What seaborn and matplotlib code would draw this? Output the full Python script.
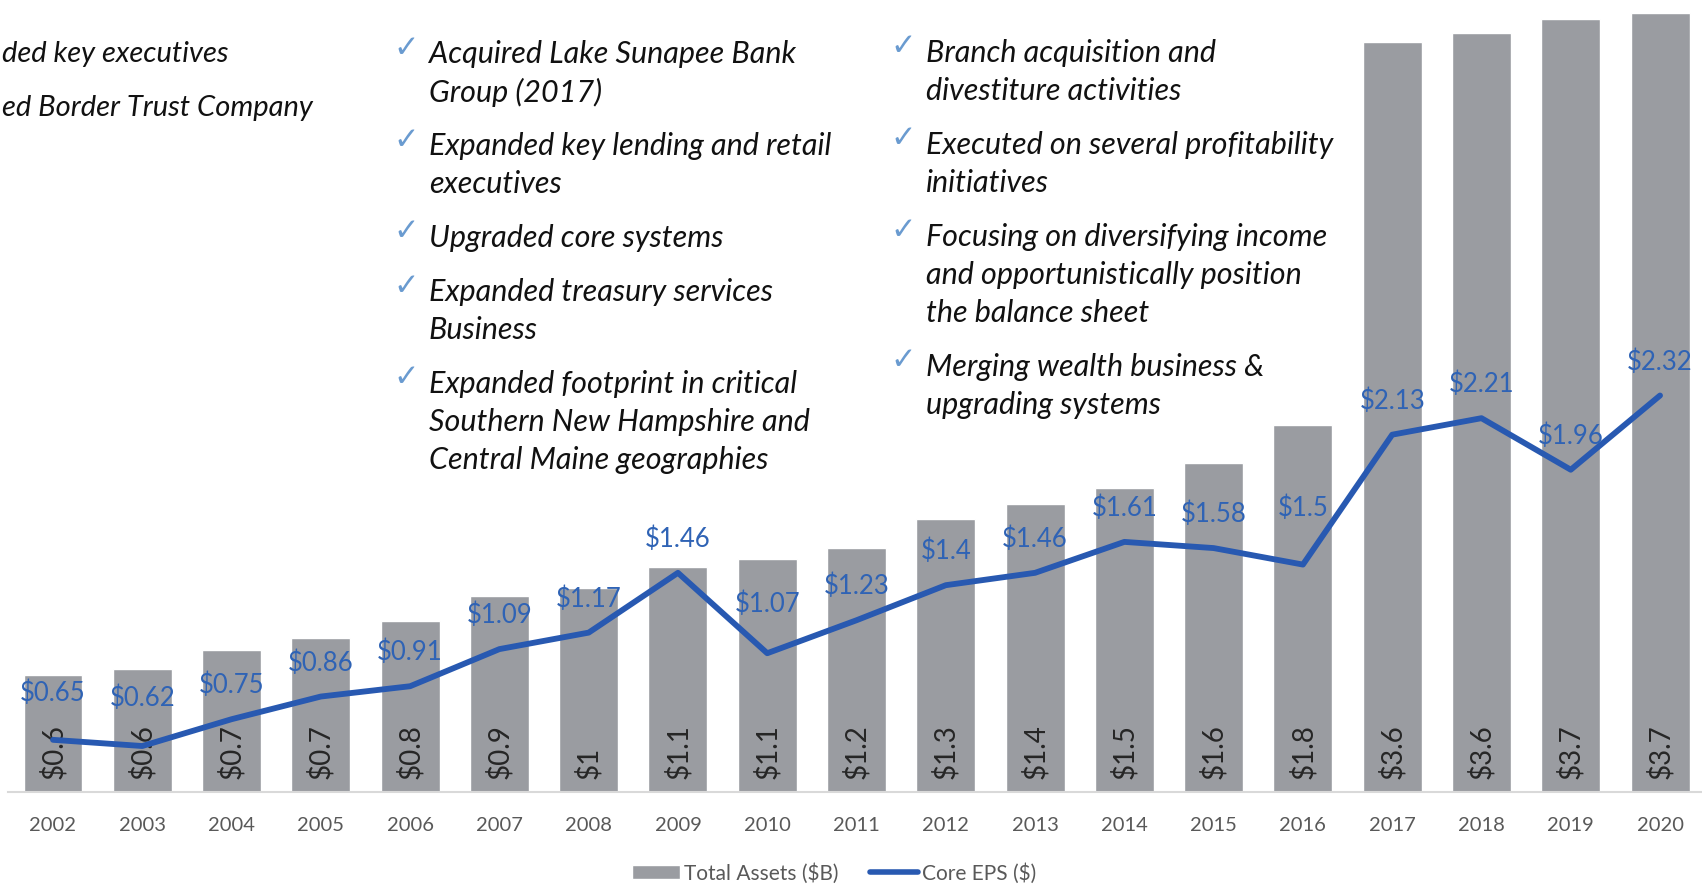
import numpy as np
import pandas as pd
import matplotlib
matplotlib.use("Agg")
import matplotlib.pyplot as plt
from matplotlib.patches import Patch
from matplotlib.lines import Line2D
import seaborn as sns

# Data
years = ["2002", "2003", "2004", "2005", "2006", "2007", "2008", "2009", "2010", "2011",
         "2012", "2013", "2014", "2015", "2016", "2017", "2018", "2019", "2020"]
total_assets = [0.56, 0.59, 0.68, 0.74, 0.82, 0.94, 0.98, 1.08, 1.12, 1.17,
                1.31, 1.38, 1.46, 1.58, 1.76, 3.60, 3.64, 3.71, 3.74]
core_eps = [0.65, 0.62, 0.75, 0.86, 0.91, 1.09, 1.17, 1.46, 1.07, 1.23,
            1.40, 1.46, 1.61, 1.58, 1.50, 2.13, 2.21, 1.96, 2.32]

col_left = ["ded key executives", "ed Border Trust Company"]
col_mid = [
    ["Acquired Lake Sunapee Bank", "Group (2017)"],
    ["Expanded key lending and retail", "executives"],
    ["Upgraded core systems"],
    ["Expanded treasury services", "Business"],
    ["Expanded footprint in critical", "Southern New Hampshire and", "Central Maine geographies"],
]
col_right = [
    ["Branch acquisition and", "divestiture activities"],
    ["Executed on several profitability", "initiatives"],
    ["Focusing on diversifying income", "and opportunistically position", "the balance sheet"],
    ["Merging wealth business &", "upgrading systems"],
]

BAR_COLOR = "#9a9ca1"
LINE_COLOR = "#2859b1"
W, H = 1702, 887

# labels that sit higher above the line (in points)
eps_label_lift = {"2002": 9, "2003": 10, "2010": 11, "2016": 16}

sns.set_theme(style="white")
plt.rcParams["font.family"] = ["Lato", "DejaVu Sans"]

df = pd.DataFrame({"year": years, "assets": total_assets, "eps": core_eps})

fig = plt.figure(figsize=(W / 100, H / 100), dpi=100)
ax = fig.add_axes([8 / W, 94 / H, 1 - 8 / W, 793 / H])
ax.patch.set_alpha(0)

# Total assets bars
sns.barplot(data=df, x="year", y="assets", color=BAR_COLOR, width=0.66,
            saturation=1, ax=ax)
ax.set_ylim(0, 3.805)

for i, v in enumerate(total_assets):
    ax.annotate(f"${round(v, 1):g}", (i, 0), xytext=(0, 10), textcoords="offset points",
                rotation=90, ha="center", va="bottom", fontsize=20, color="#262626")

# Core EPS line on a second axis
ax2 = ax.twinx()
sns.lineplot(x=np.arange(len(years)), y=df["eps"], color=LINE_COLOR, lw=4.2, ax=ax2)
ax2.set_ylim(0.397, 4.243)

for i, v in enumerate(core_eps):
    dy = 25 + eps_label_lift.get(years[i], 0)
    ax2.annotate(f"${v:g}", (i, v), xytext=(0, dy), textcoords="offset points",
                 ha="center", va="center", fontsize=18.5, color="#2f63b5")

ax.set_xlim(-0.504, 18.47)

for a in (ax, ax2):
    a.set_xlabel("")
    a.set_ylabel("")
    a.set_yticks([])
    for s in ["top", "left", "right"]:
        a.spines[s].set_visible(False)
ax2.spines["bottom"].set_visible(False)
ax.spines["bottom"].set_color("#d9d9d9")
ax.spines["bottom"].set_linewidth(1.5)
ax.tick_params(axis="x", length=0, pad=17, labelsize=14.5, labelcolor="#595959")

# Legend
handles = [Patch(facecolor=BAR_COLOR), Line2D([], [], color=LINE_COLOR, lw=4)]
fig.legend(handles, ["Total Assets ($B)", "Core EPS ($)"], loc="center",
           bbox_to_anchor=(834 / W, 1 - 874 / H), ncol=2, frameon=False, fontsize=15,
           labelcolor="#595959", handlelength=2.3, handleheight=0.6,
           handletextpad=0.2, columnspacing=1.5)


# Bullet text columns
def bullet_column(items, x_check, x_text, y0):
    y = y0
    for lines in items:
        fig.text(x_check / W, 1 - (y - 6) / H, "\u2713", family="DejaVu Sans",
                 fontsize=22, color="#6a9bd0", ha="left", va="center")
        for line in lines:
            fig.text(x_text / W, 1 - y / H, line, style="italic", fontsize=22,
                     color="#111111", ha="left", va="center")
            y += 38
        y += 16


for k, line in enumerate(col_left):
    fig.text(2 / W, 1 - (54 + 54 * k) / H, line, style="italic", fontsize=21,
             color="#111111", ha="left", va="center")
bullet_column(col_mid, 393, 429, 54)
bullet_column(col_right, 890, 926, 53)

fig.savefig("out.png", dpi=100)
